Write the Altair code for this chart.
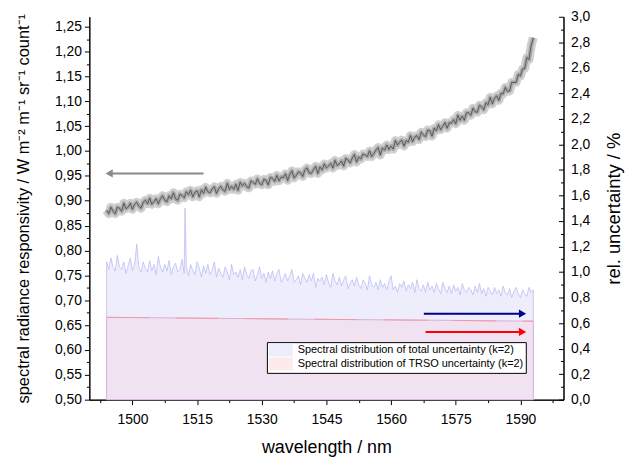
import altair as alt
import pandas as pd

FONT = "Liberation Sans"

# ---------------- data ----------------
wavelength = [
    1494.0, 1494.5, 1495.0, 1495.5, 1496.0, 1496.5, 1497.0, 1497.5, 1498.0, 1498.5,
    1499.0, 1499.5, 1500.0, 1500.5, 1501.0, 1501.5, 1502.0, 1502.5, 1503.0, 1503.5,
    1504.0, 1504.5, 1505.0, 1505.5, 1506.0, 1506.5, 1507.0, 1507.5, 1508.0, 1508.5,
    1509.0, 1509.5, 1510.0, 1510.5, 1511.0, 1511.5, 1512.0, 1512.5, 1513.0, 1513.5,
    1514.0, 1514.5, 1515.0, 1515.5, 1516.0, 1516.5, 1517.0, 1517.5, 1518.0, 1518.5,
    1519.0, 1519.5, 1520.0, 1520.5, 1521.0, 1521.5, 1522.0, 1522.5, 1523.0, 1523.5,
    1524.0, 1524.5, 1525.0, 1525.5, 1526.0, 1526.5, 1527.0, 1527.5, 1528.0, 1528.5,
    1529.0, 1529.5, 1530.0, 1530.5, 1531.0, 1531.5, 1532.0, 1532.5, 1533.0, 1533.5,
    1534.0, 1534.5, 1535.0, 1535.5, 1536.0, 1536.5, 1537.0, 1537.5, 1538.0, 1538.5,
    1539.0, 1539.5, 1540.0, 1540.5, 1541.0, 1541.5, 1542.0, 1542.5, 1543.0, 1543.5,
    1544.0, 1544.5, 1545.0, 1545.5, 1546.0, 1546.5, 1547.0, 1547.5, 1548.0, 1548.5,
    1549.0, 1549.5, 1550.0, 1550.5, 1551.0, 1551.5, 1552.0, 1552.5, 1553.0, 1553.5,
    1554.0, 1554.5, 1555.0, 1555.5, 1556.0, 1556.5, 1557.0, 1557.5, 1558.0, 1558.5,
    1559.0, 1559.5, 1560.0, 1560.5, 1561.0, 1561.5, 1562.0, 1562.5, 1563.0, 1563.5,
    1564.0, 1564.5, 1565.0, 1565.5, 1566.0, 1566.5, 1567.0, 1567.5, 1568.0, 1568.5,
    1569.0, 1569.5, 1570.0, 1570.5, 1571.0, 1571.5, 1572.0, 1572.5, 1573.0, 1573.5,
    1574.0, 1574.5, 1575.0, 1575.5, 1576.0, 1576.5, 1577.0, 1577.5, 1578.0, 1578.5,
    1579.0, 1579.5, 1580.0, 1580.5, 1581.0, 1581.5, 1582.0, 1582.5, 1583.0, 1583.5,
    1584.0, 1584.5, 1585.0, 1585.5, 1586.0, 1586.5, 1587.0, 1587.5, 1588.0, 1588.5,
    1589.0, 1589.5, 1590.0, 1590.5, 1591.0, 1591.5, 1592.0, 1592.5, 1593.0]

responsivity = [
    0.881, 0.874, 0.887, 0.879, 0.874, 0.887, 0.885, 0.879, 0.895, 0.884,
    0.887, 0.895, 0.883, 0.893, 0.897, 0.889, 0.885, 0.897, 0.901, 0.894,
    0.905, 0.893, 0.898, 0.904, 0.894, 0.904, 0.910, 0.901, 0.898, 0.910,
    0.904, 0.916, 0.904, 0.901, 0.913, 0.911, 0.906, 0.918, 0.912, 0.921,
    0.908, 0.917, 0.920, 0.908, 0.922, 0.915, 0.927, 0.918, 0.916, 0.924,
    0.928, 0.915, 0.924, 0.929, 0.922, 0.919, 0.935, 0.923, 0.929, 0.923,
    0.933, 0.921, 0.937, 0.930, 0.935, 0.928, 0.926, 0.940, 0.937, 0.933,
    0.944, 0.935, 0.932, 0.943, 0.941, 0.932, 0.947, 0.945, 0.939, 0.951,
    0.940, 0.948, 0.946, 0.954, 0.941, 0.953, 0.960, 0.946, 0.951, 0.958,
    0.956, 0.949, 0.962, 0.966, 0.956, 0.955, 0.963, 0.969, 0.955, 0.968,
    0.962, 0.974, 0.966, 0.970, 0.975, 0.966, 0.981, 0.971, 0.974, 0.980,
    0.970, 0.985, 0.982, 0.976, 0.986, 0.993, 0.978, 0.988, 0.984, 0.994,
    0.992, 0.989, 1.000, 0.989, 0.995, 1.002, 1.007, 0.992, 1.006, 1.002,
    1.012, 1.003, 1.010, 1.004, 1.021, 1.012, 1.018, 1.022, 1.010, 1.021,
    1.018, 1.031, 1.019, 1.028, 1.031, 1.023, 1.038, 1.032, 1.029, 1.042,
    1.041, 1.030, 1.046, 1.041, 1.053, 1.043, 1.050, 1.057, 1.046, 1.057,
    1.056, 1.063, 1.055, 1.072, 1.062, 1.070, 1.062, 1.077, 1.077, 1.072,
    1.086, 1.079, 1.078, 1.092, 1.089, 1.083, 1.097, 1.093, 1.108, 1.095,
    1.106, 1.111, 1.102, 1.116, 1.115, 1.128, 1.120, 1.121, 1.138, 1.138,
    1.138, 1.154, 1.151, 1.165, 1.166, 1.188, 1.184, 1.212, 1.228]

unc_wavelength = [
    1494.0, 1494.5, 1495.0, 1495.5, 1496.0, 1496.5, 1497.0, 1497.5, 1498.0, 1498.5,
    1499.0, 1499.5, 1500.0, 1500.5, 1501.0, 1501.5, 1502.0, 1502.5, 1503.0, 1503.5,
    1504.0, 1504.5, 1505.0, 1505.5, 1506.0, 1506.5, 1507.0, 1507.5, 1508.0, 1508.5,
    1509.0, 1509.5, 1510.0, 1510.5, 1511.0, 1511.5, 1512.0, 1512.2, 1512.5, 1513.0,
    1513.5, 1514.0, 1514.5, 1515.0, 1515.5, 1516.0, 1516.5, 1517.0, 1517.5, 1518.0,
    1518.5, 1519.0, 1519.5, 1520.0, 1520.5, 1521.0, 1521.5, 1522.0, 1522.5, 1523.0,
    1523.5, 1524.0, 1524.5, 1525.0, 1525.5, 1526.0, 1526.5, 1527.0, 1527.5, 1528.0,
    1528.5, 1529.0, 1529.5, 1530.0, 1530.5, 1531.0, 1531.5, 1532.0, 1532.5, 1533.0,
    1533.5, 1534.0, 1534.5, 1535.0, 1535.5, 1536.0, 1536.5, 1537.0, 1537.5, 1538.0,
    1538.5, 1539.0, 1539.5, 1540.0, 1540.5, 1541.0, 1541.5, 1542.0, 1542.5, 1543.0,
    1543.5, 1544.0, 1544.5, 1545.0, 1545.5, 1546.0, 1546.5, 1547.0, 1547.5, 1548.0,
    1548.5, 1549.0, 1549.5, 1550.0, 1550.5, 1551.0, 1551.5, 1552.0, 1552.5, 1553.0,
    1553.5, 1554.0, 1554.5, 1555.0, 1555.5, 1556.0, 1556.5, 1557.0, 1557.5, 1558.0,
    1558.5, 1559.0, 1559.5, 1560.0, 1560.5, 1561.0, 1561.5, 1562.0, 1562.5, 1563.0,
    1563.5, 1564.0, 1564.5, 1565.0, 1565.5, 1566.0, 1566.5, 1567.0, 1567.5, 1568.0,
    1568.5, 1569.0, 1569.5, 1570.0, 1570.5, 1571.0, 1571.5, 1572.0, 1572.5, 1573.0,
    1573.5, 1574.0, 1574.5, 1575.0, 1575.5, 1576.0, 1576.5, 1577.0, 1577.5, 1578.0,
    1578.5, 1579.0, 1579.5, 1580.0, 1580.5, 1581.0, 1581.5, 1582.0, 1582.5, 1583.0,
    1583.5, 1584.0, 1584.5, 1585.0, 1585.5, 1586.0, 1586.5, 1587.0, 1587.5, 1588.0,
    1588.5, 1589.0, 1589.5, 1590.0, 1590.5, 1591.0, 1591.5, 1592.0, 1592.5, 1593.0]

total_unc = [
    1.08, 1.02, 1.11, 1.04, 1.01, 1.13, 1.04, 1.02, 1.08, 0.99,
    1.05, 1.11, 1.01, 1.06, 1.22, 1.03, 1.00, 1.08, 1.03, 1.00,
    1.09, 1.01, 1.06, 0.98, 1.12, 1.04, 1.00, 1.06, 1.01, 1.09,
    0.98, 1.04, 1.07, 1.00, 1.02, 1.10, 0.99, 1.50, 1.04, 0.97,
    1.06, 1.01, 0.98, 1.08, 1.03, 0.96, 1.05, 0.99, 1.06, 0.98,
    1.01, 1.08, 0.96, 1.03, 0.99, 0.96, 1.04, 1.00, 0.94, 1.06,
    0.98, 1.00, 0.96, 1.02, 0.94, 1.04, 0.98, 0.95, 1.01, 1.02,
    0.93, 0.98, 1.04, 0.95, 0.99, 0.92, 1.00, 0.95, 1.01, 0.93,
    0.99, 1.02, 0.92, 0.95, 0.99, 0.93, 0.97, 1.02, 0.92, 0.94,
    0.97, 0.90, 0.99, 0.95, 0.92, 0.98, 0.93, 0.99, 0.88, 0.95,
    0.93, 0.96, 0.90, 0.98, 0.92, 0.88, 0.99, 0.93, 0.90, 0.96,
    0.89, 0.94, 0.97, 0.87, 0.91, 0.94, 0.89, 0.96, 0.90, 0.87,
    0.94, 0.91, 0.86, 0.97, 0.90, 0.88, 0.92, 0.86, 0.94, 0.88,
    0.91, 0.86, 0.93, 0.97, 0.86, 0.89, 0.84, 0.91, 0.88, 0.93,
    0.85, 0.90, 0.87, 0.92, 0.84, 0.94, 0.87, 0.85, 0.90, 0.84,
    0.92, 0.86, 0.89, 0.84, 0.91, 0.87, 0.83, 0.92, 0.87, 0.84,
    0.89, 0.83, 0.90, 0.85, 0.88, 0.82, 0.91, 0.86, 0.84, 0.88,
    0.86, 0.82, 0.89, 0.84, 0.91, 0.83, 0.87, 0.81, 0.88, 0.85,
    0.82, 0.88, 0.83, 0.86, 0.81, 0.89, 0.84, 0.82, 0.87, 0.80,
    0.85, 0.88, 0.83, 0.80, 0.86, 0.83, 0.81, 0.88, 0.84, 0.86]

trso_wavelength = [1494, 1505, 1516, 1527, 1538, 1549, 1560, 1571, 1582, 1593]
trso_unc = [0.645, 0.642, 0.638, 0.635, 0.631, 0.628, 0.625, 0.622, 0.618, 0.615]

legend_labels = ["Spectral distribution of total uncertainty (k=2)",
                 "Spectral distribution of TRSO uncertainty (k=2)"]
legend_colors = ["#eceefc", "#fdeaea"]

# arrows: left-axis arrow (grey) and right-axis arrows (blue, red)
left_arrow_x = [1494.6]
left_arrow_x2 = [1516.5]
left_arrow_y = [0.955]
right_arrow_x = [1567.6, 1568.0]
right_arrow_x2 = [1590.5, 1590.5]
right_arrow_y = [0.674, 0.531]
right_arrow_color = ["#00008b", "#ff0000"]

# axis ticks
x_major = [1500, 1515, 1530, 1545, 1560, 1575, 1590]
x_minor = [1492.5, 1507.5, 1522.5, 1537.5, 1552.5, 1567.5, 1582.5, 1597.5]
yl_major = [0.50, 0.55, 0.60, 0.65, 0.70, 0.75, 0.80, 0.85, 0.90, 0.95,
            1.00, 1.05, 1.10, 1.15, 1.20, 1.25]
yl_minor = [0.525, 0.575, 0.625, 0.675, 0.725, 0.775, 0.825, 0.875, 0.925,
            0.975, 1.025, 1.075, 1.125, 1.175, 1.225]
yr_major = [0.0, 0.2, 0.4, 0.6, 0.8, 1.0, 1.2, 1.4, 1.6, 1.8, 2.0, 2.2,
            2.4, 2.6, 2.8, 3.0]
yr_minor = [0.1, 0.3, 0.5, 0.7, 0.9, 1.1, 1.3, 1.5, 1.7, 1.9, 2.1, 2.3,
            2.5, 2.7, 2.9]

X_DOMAIN = [1490, 1600]
YL_DOMAIN = [0.5, 1.27]
YR_DOMAIN = [0.0, 3.0]

W, H = 478, 386

resp_df = pd.DataFrame({"wl": wavelength, "v": responsivity})
tot_df = pd.DataFrame({"wl": unc_wavelength, "v": total_unc})
trso_df = pd.DataFrame({"wl": trso_wavelength, "v": trso_unc})
larrow_df = pd.DataFrame({"wl": left_arrow_x, "wl2": left_arrow_x2, "v": left_arrow_y})
rarrow_df = pd.DataFrame({"wl": right_arrow_x, "wl2": right_arrow_x2,
                          "v": right_arrow_y, "c": right_arrow_color})
leg_df = pd.DataFrame({"label": legend_labels})

xs = alt.Scale(domain=X_DOMAIN, nice=False, zero=False)
yls = alt.Scale(domain=YL_DOMAIN, nice=False, zero=False)
yrs = alt.Scale(domain=YR_DOMAIN, nice=False, zero=False)

common = dict(domainColor="black", tickColor="black", labelColor="black",
              titleColor="black", grid=False, labelFont=FONT, titleFont=FONT,
              titleFontWeight="normal", domainWidth=1, tickWidth=1)

x_axis_major = alt.Axis(orient="bottom", values=x_major, format="d", labelFontSize=14,
                        tickSize=5, labelPadding=8, title="wavelength / nm",
                        titleFontSize=18, titleX=W / 2, titleY=48, titleAlign="center",
                        titleBaseline="middle", **common)
x_axis_minor = alt.Axis(orient="bottom", values=x_minor, labels=False, tickSize=3,
                        title=None, **common)

comma2 = "replace(format(datum.value, '.2f'), '.', ',')"
comma1 = "replace(format(datum.value, '.1f'), '.', ',')"

yl_axis_major = alt.Axis(orient="left", values=yl_major, labelExpr=comma2, labelFontSize=14,
                         tickSize=5, labelPadding=3,
                         title="spectral radiance responsivity / W m⁻² m⁻¹ sr⁻¹ count⁻¹",
                         titleFontSize=16.5, titleX=-66, titleY=H / 2, titleAngle=270,
                         titleAlign="center", titleBaseline="middle", **common)
yl_axis_minor = alt.Axis(orient="left", values=yl_minor, labels=False, tickSize=3,
                         title=None, **common)

yr_axis_major = alt.Axis(orient="right", values=yr_major, labelExpr=comma1, labelFontSize=14,
                         tickSize=alt.ExprRef(expr="-5"), labelPadding=12,
                         title="rel. uncertainty / %", titleFontSize=18.5, titleX=50,
                         titleY=H / 2, titleAngle=270, titleAlign="center",
                         titleBaseline="middle", **common)
yr_axis_minor = alt.Axis(orient="right", values=yr_minor, labels=False,
                         tickSize=alt.ExprRef(expr="-3"), title=None, **common)

# ---------------- left (responsivity) group ----------------
halo = alt.Chart(resp_df).mark_line(color="#d0d0d0", strokeWidth=9, strokeCap="butt",
                                    strokeJoin="round").encode(
    x=alt.X("wl:Q", scale=xs, axis=x_axis_major),
    y=alt.Y("v:Q", scale=yls, axis=yl_axis_major),
)
inner = alt.Chart(resp_df).mark_line(color="#a8a8a8", strokeWidth=4, strokeCap="butt",
                                     strokeJoin="round").encode(
    x=alt.X("wl:Q", scale=xs, axis=None),
    y=alt.Y("v:Q", scale=yls, axis=None),
)
curve = alt.Chart(resp_df).mark_line(color="#262626", strokeWidth=0.6).encode(
    x=alt.X("wl:Q", scale=xs, axis=x_axis_minor),
    y=alt.Y("v:Q", scale=yls, axis=yl_axis_minor),
)
larrow = alt.Chart(larrow_df).mark_rule(color="#8a8a8a", strokeWidth=2).encode(
    x=alt.X("wl:Q", scale=xs, axis=None), x2="wl2:Q",
    y=alt.Y("v:Q", scale=yls, axis=None),
)
lhead = alt.Chart(larrow_df).mark_point(shape="triangle-left", filled=True, size=70,
                                         color="#8a8a8a", opacity=1).encode(
    x=alt.X("wl:Q", scale=xs, axis=None),
    y=alt.Y("v:Q", scale=yls, axis=None),
)
left_group = alt.layer(halo, inner, curve, larrow, lhead).resolve_axis(
    x="independent", y="independent")

# ---------------- right (uncertainty) group ----------------
tot_area = alt.Chart(tot_df).mark_area(fill="#ededfc", stroke="#b3b7f2", strokeWidth=0.7,
                                       opacity=1).encode(
    x=alt.X("wl:Q", scale=xs, axis=None),
    y=alt.Y("v:Q", scale=yrs, axis=yr_axis_major),
)
trso_area = alt.Chart(trso_df).mark_area(fill="#f1e2f1", stroke="#dcaedc", strokeWidth=1,
                                         opacity=1).encode(
    x=alt.X("wl:Q", scale=xs, axis=None),
    y=alt.Y("v:Q", scale=yrs, axis=yr_axis_minor),
)
trso_line = alt.Chart(trso_df).mark_line(color="#f39aa4", strokeWidth=1,
                                         strokeDash=[43, 27]).encode(
    x=alt.X("wl:Q", scale=xs, axis=None),
    y=alt.Y("v:Q", scale=yrs, axis=None),
)
rarrow = alt.Chart(rarrow_df).mark_rule(strokeWidth=2).encode(
    x=alt.X("wl:Q", scale=xs, axis=None), x2="wl2:Q",
    y=alt.Y("v:Q", scale=yrs, axis=None),
    color=alt.Color("c:N", scale=None),
)
rhead = alt.Chart(rarrow_df).mark_point(shape="triangle-right", filled=True, size=70,
                                         opacity=1).encode(
    x=alt.X("wl2:Q", scale=xs, axis=None),
    y=alt.Y("v:Q", scale=yrs, axis=None),
    color=alt.Color("c:N", scale=None),
)
RECT = "M-1,-1.08H3V1.08H-1Z"
legend_layer = alt.Chart(leg_df).transform_filter("false").mark_point(
    shape=RECT, filled=True, size=144, opacity=1).encode(
    color=alt.Color("label:N",
                    scale=alt.Scale(domain=legend_labels, range=legend_colors),
                    legend=alt.Legend(orient="none", legendX=179, legendY=328, title=None,
                                      labelFont=FONT, labelFontSize=11, labelColor="black",
                                      strokeColor="black", fillColor="white", padding=2,
                                      symbolType=RECT, symbolSize=144, symbolStrokeWidth=0,
                                      rowPadding=0, labelOffset=17, labelLimit=400,
                                      cornerRadius=0)),
)
right_group = alt.layer(tot_area, trso_area, trso_line, rarrow, rhead,
                        legend_layer).resolve_axis(y="independent")

chart = alt.layer(left_group, right_group).resolve_scale(y="independent").properties(
    width=W, height=H, autosize="none",
    padding={"left": 82, "top": 7, "right": 62, "bottom": 60},
    background="white",
).configure_view(stroke=None)

chart.save("out.html", embed_options={"renderer": "svg", "actions": False})
